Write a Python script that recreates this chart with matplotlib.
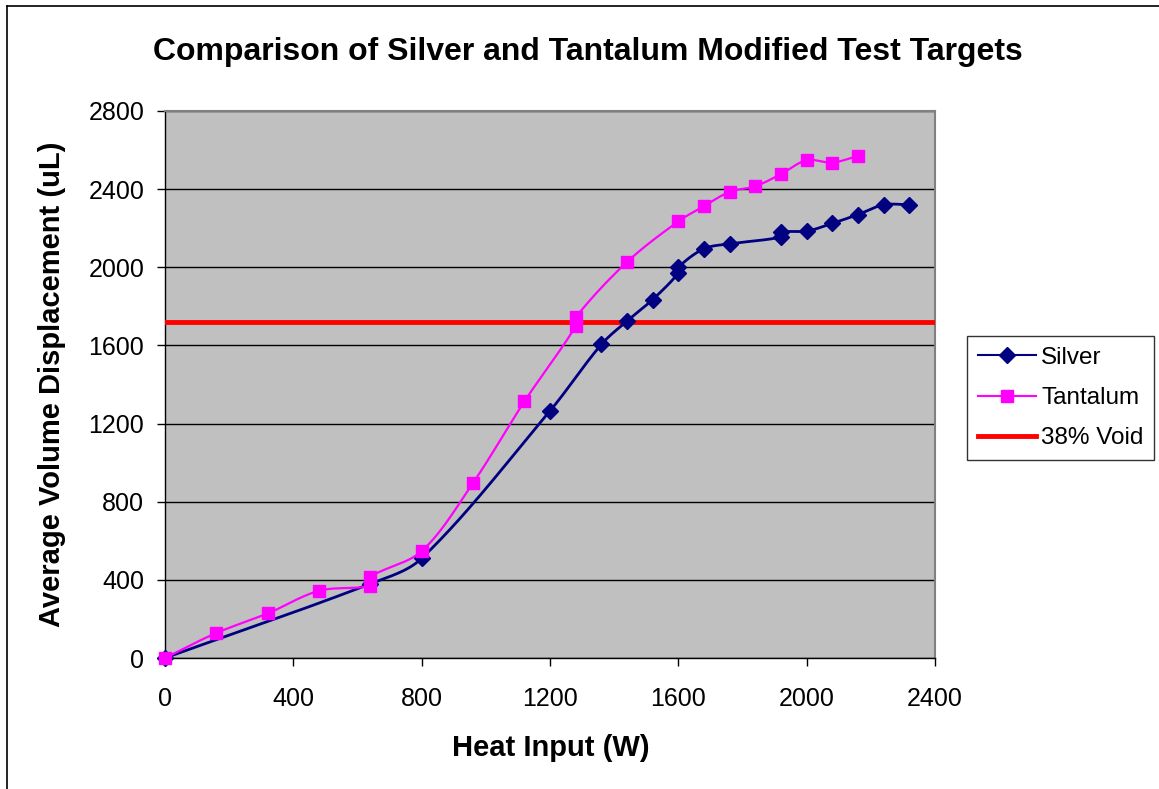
import numpy as np
import matplotlib
matplotlib.use("Agg")
import matplotlib.pyplot as plt
from matplotlib.lines import Line2D

plt.rcParams['font.family'] = ['Liberation Sans', 'DejaVu Sans']

# Heat input (W) and average volume displacement (uL)
silver_w = [0, 640, 800, 1200, 1360, 1440, 1520, 1600, 1600, 1680, 1760,
            1920, 1920, 2000, 2080, 2160, 2240, 2320]
silver_v = [0, 380, 510, 1265, 1605, 1725, 1835, 1970, 2000, 2095, 2120,
            2155, 2180, 2185, 2225, 2270, 2320, 2320]

tantalum_w = [0, 160, 320, 480, 640, 640, 800, 960, 1120, 1280, 1280, 1440,
              1600, 1680, 1760, 1840, 1920, 2000, 2080, 2160]
tantalum_v = [0, 128, 228, 344, 370, 415, 547, 896, 1313, 1698, 1744, 2027,
              2235, 2313, 2386, 2415, 2477, 2548, 2536, 2570]

void_level = 1720

x_ticks = [0, 400, 800, 1200, 1600, 2000, 2400]
y_ticks = [0, 400, 800, 1200, 1600, 2000, 2400, 2800]


def smooth(ax, xs, ys, n=30):
    """Bezier smoothing through every point, with tangents weighted by
    segment length in screen space to avoid overshoot."""
    p = ax.transData.transform(np.column_stack([xs, ys]).astype(float))
    out = [p[0]]
    m = len(p)
    for i in range(m - 1):
        p0 = p[i - 1] if i > 0 else p[i]
        p1, p2 = p[i], p[i + 1]
        p3 = p[i + 2] if i + 2 < m else p[i + 1]
        d01 = np.hypot(*(p1 - p0))
        d12 = np.hypot(*(p2 - p1))
        d23 = np.hypot(*(p3 - p2))
        f1 = d12 / (d01 + d12) if d01 + d12 > 0 else 0.0
        f2 = d12 / (d12 + d23) if d12 + d23 > 0 else 0.0
        c1 = p1 + (p2 - p0) * f1 / 3.0
        c2 = p2 - (p3 - p1) * f2 / 3.0
        t = np.linspace(0, 1, n)[1:, None]
        seg = ((1 - t) ** 3) * p1 + 3 * ((1 - t) ** 2) * t * c1 \
            + 3 * (1 - t) * t ** 2 * c2 + t ** 3 * p2
        out.extend(seg)
    out = ax.transData.inverted().transform(np.array(out))
    return out[:, 0], out[:, 1]


W, H = 1159, 789
fig = plt.figure(figsize=(W / 100, H / 100), dpi=100)
fig.patch.set_facecolor('white')

left, right, top, bottom = 165, 935, 111, 658
ax = fig.add_axes([left / W, 1 - bottom / H, (right - left) / W, (bottom - top) / H])
ax.set_facecolor('#C0C0C0')

ax.set_xlim(0, 2400)
ax.set_ylim(0, 2800)
ax.set_xticks(x_ticks)
ax.set_yticks(y_ticks)
ax.set_xticklabels([str(v) for v in x_ticks])
ax.set_yticklabels([str(v) for v in y_ticks])
ax.grid(axis='y', color='black', linewidth=1.0)
ax.set_axisbelow(True)

for side in ('top', 'right'):
    ax.spines[side].set_color('#808080')
    ax.spines[side].set_linewidth(1.5)
for side in ('left', 'bottom'):
    ax.spines[side].set_color('black')
    ax.spines[side].set_linewidth(1.0)

ax.tick_params(axis='both', direction='out', length=6, width=1, color='black',
               labelsize=18)
ax.tick_params(axis='y', pad=9)
ax.tick_params(axis='x', pad=15)

navy = '#000080'
magenta = '#FF00FF'

ax.axhline(void_level, color='#FF0000', linewidth=3.5, zorder=3)

sx, sy = smooth(ax, silver_w, silver_v)
ax.plot(sx, sy, color=navy, linewidth=2.0, zorder=4, clip_on=False)
ax.plot(silver_w, silver_v, linestyle='none', marker='D', markersize=8,
        color=navy, zorder=5, clip_on=False)

tx, ty = smooth(ax, tantalum_w, tantalum_v)
ax.plot(tx, ty, color=magenta, linewidth=1.6, zorder=6, clip_on=False)
ax.plot(tantalum_w, tantalum_v, linestyle='none', marker='s', markersize=9,
        color=magenta, zorder=7, clip_on=False)

fig.text((452 + 650) / 2 / W, 1 - 748 / H, 'Heat Input (W)',
         ha='center', va='center', fontsize=21, fontweight='bold')
fig.text(52 / W, 1 - 384 / H, 'Average Volume Displacement (uL)',
         ha='center', va='center', rotation=90, fontsize=21, fontweight='bold')

fig.text(587.5 / W, 1 - 52 / H,
         'Comparison of Silver and Tantalum Modified Test Targets',
         ha='center', va='center', fontsize=23, fontweight='bold')

handles = [
    Line2D([], [], color=navy, linewidth=1.5, marker='D', markersize=8),
    Line2D([], [], color=magenta, linewidth=1.5, marker='s', markersize=8),
    Line2D([], [], color='#FF0000', linewidth=3.5),
]
leg = fig.legend(handles, ['Silver', 'Tantalum', '38% Void'],
                 loc='upper left', bbox_to_anchor=(967 / W, 1 - 336 / H),
                 frameon=True, fancybox=False, fontsize=17.5, handlelength=2.4,
                 handletextpad=0.2, borderpad=0.45, labelspacing=0.75,
                 borderaxespad=0)
leg.get_frame().set_edgecolor('black')
leg.get_frame().set_linewidth(1.0)

# Outer chart frame (left and top edges)
fig.add_artist(Line2D([7 / W, 7 / W], [0, 1 - 6 / H], color='black',
                      linewidth=1.2, transform=fig.transFigure))
fig.add_artist(Line2D([7 / W, 1], [1 - 6 / H, 1 - 6 / H], color='black',
                      linewidth=1.2, transform=fig.transFigure))

fig.savefig('out.png', dpi=100)
